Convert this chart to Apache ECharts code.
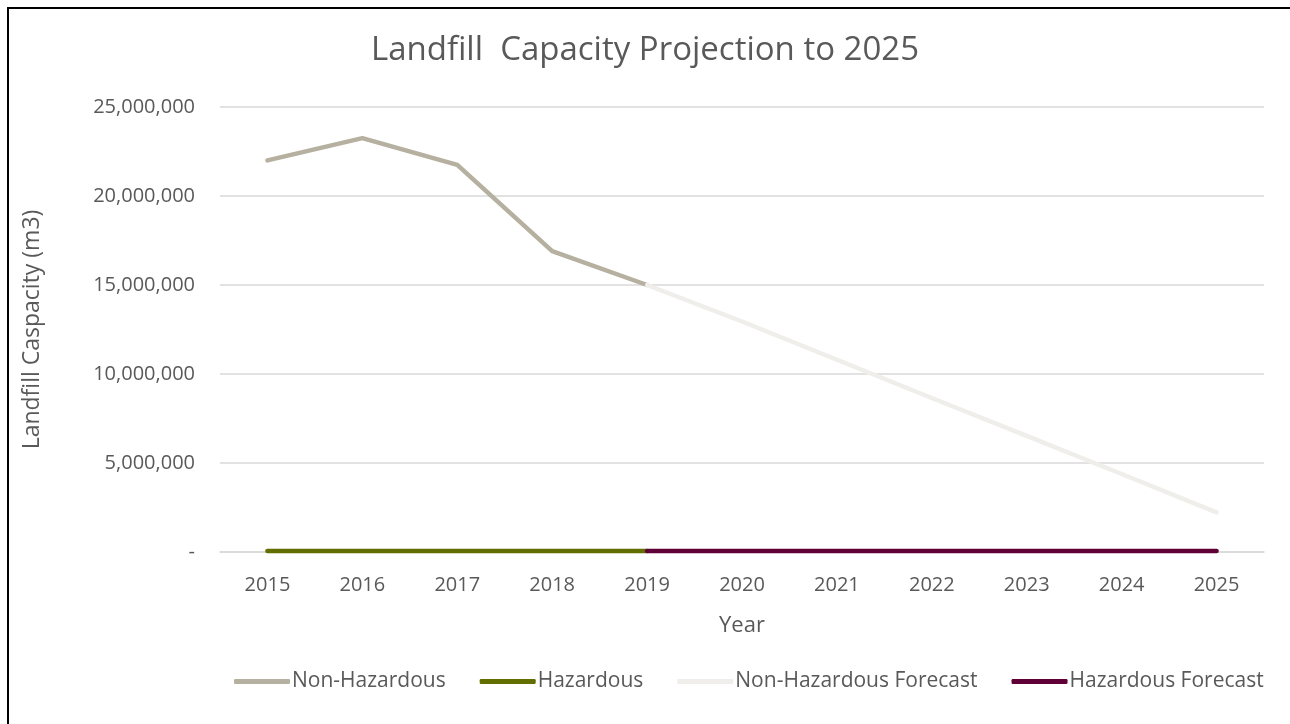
<!DOCTYPE html>
<html>
<head>
<meta charset="utf-8">
<script src="https://cdn.jsdelivr.net/npm/echarts@6/dist/echarts.min.js"></script>
<style>
html,body{margin:0;padding:0;background:#fff;}
#c{width:1290px;height:724px;position:relative;}
#frame{position:absolute;left:7px;top:7px;width:1300px;height:730px;border-top:2px solid #000;border-left:2px solid #000;pointer-events:none;z-index:10;}
</style>
</head>
<body>
<div id="c"></div>
<div id="frame"></div>
<script>
const years = ['2015','2016','2017','2018','2019','2020','2021','2022','2023','2024','2025'];
const nonHazardous = [22000000, 23250000, 21750000, 16900000, 15000000, null, null, null, null, null, null];
const hazardous = [50000, 50000, 50000, 50000, 50000, null, null, null, null, null, null];
const nonHazardousForecast = [null, null, null, null, 15000000, 12950000, 10800000, 8650000, 6520000, 4380000, 2230000];
const hazardousForecast = [null, null, null, null, 50000, 50000, 50000, 50000, 50000, 50000, 50000];
const yTicks = [0, 5000000, 10000000, 15000000, 20000000, 25000000];

const FONT = '"Open Sans"';
const chart = echarts.init(document.getElementById('c'));
function fmt(v){ return v === 0 ? '-' : v.toLocaleString('en-US'); }
function ser(name, data, color){
  return {name, type:'line', data, symbol:'none', connectNulls:false,
    lineStyle:{color, width:4.5, cap:'round', join:'round'}, itemStyle:{color}};
}
chart.setOption({
  animation:false,
  title:{text:'Landfill  Capacity Projection to 2025', left:'center', top:29,
    textStyle:{fontFamily:FONT, fontSize:33, fontWeight:'normal', color:'#595959'}},
  grid:{left:220, right:26, top:107, bottom:172},
  legend:{top:666, left:229, itemWidth:56, itemHeight:5, itemGap:34,
    icon:'roundRect',
    textStyle:{fontFamily:FONT, fontSize:21, color:'#595959', padding:[0,0,0,-3]},
    data:['Non-Hazardous','Hazardous','Non-Hazardous Forecast','Hazardous Forecast']},
  xAxis:{type:'category', data:years, boundaryGap:true,
    name:'Year', nameLocation:'middle', nameGap:63,
    nameTextStyle:{fontFamily:FONT, fontSize:22, color:'#595959'},
    axisLine:{show:true, lineStyle:{color:'#d9d9d9', width:1.5}},
    axisTick:{show:false},
    axisLabel:{fontFamily:FONT, fontSize:20, color:'#595959', margin:23}},
  yAxis:{type:'value', min:0, max:25000000, interval:5000000,
    name:'Landfill Caspacity (m3)', nameLocation:'middle', nameGap:176, nameRotate:90,
    nameTextStyle:{fontFamily:FONT, fontSize:23, color:'#595959'},
    axisLine:{show:false}, axisTick:{show:false},
    splitLine:{lineStyle:{color:'#d9d9d9', width:1.5}},
    axisLabel:{fontFamily:FONT, fontSize:20, color:'#595959', margin:25,
      formatter:function(v){ return yTicks.indexOf(v) >= 0 ? fmt(v) : ''; }}},
  series:[
    ser('Non-Hazardous', nonHazardous, '#b5b09f'),
    ser('Hazardous', hazardous, '#626e00'),
    ser('Non-Hazardous Forecast', nonHazardousForecast, '#efeeea'),
    ser('Hazardous Forecast', hazardousForecast, '#5f0037')
  ]
});
</script>
</body>
</html>
